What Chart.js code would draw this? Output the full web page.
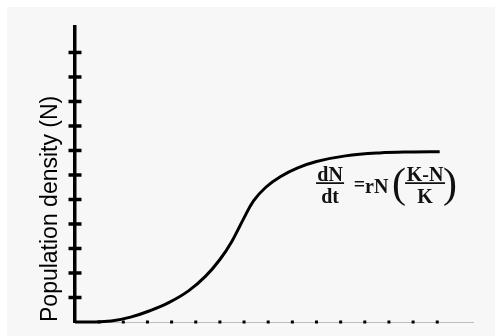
<!DOCTYPE html>
<html>
<head>
<meta charset="utf-8">
<script src="https://cdn.jsdelivr.net/npm/chart.js@4.4.0/dist/chart.umd.min.js"></script>
<style>
  html, body { margin: 0; padding: 0; background: #fff; }
  .wrap { position: absolute; left: 7px; top: 7px; width: 488px; height: 329px; }
</style>
</head>
<body>
<div class="wrap"><canvas id="logistic" width="488" height="329"></canvas></div>
<script>
// logistic growth curve (x in time steps, y in tick units)
const timeVals = [0, 0.6, 1.5, 2.3, 3.1, 3.9, 4.7, 5.4, 6.0, 6.5, 7.0, 7.4, 7.9, 8.5, 9.2, 10.0, 11.2, 12.6, 14.0, 15.1];
const densityVals = [0, 0, 0.04, 0.2, 0.46, 0.8, 1.27, 1.86, 2.55, 3.3, 4.25, 4.95, 5.5, 5.93, 6.28, 6.55, 6.78, 6.9, 6.94, 6.95];
const xMax = 16.48, yMax = 12.04;
const xLastTick = 15, yLastTick = 11;
const yTitle = 'Population density (N)';

const points = timeVals.map((t, i) => ({ x: t, y: densityVals[i] }));

const bgPlugin = {
  id: 'bg',
  beforeDraw(chart) {
    const c = chart.ctx;
    c.save();
    c.fillStyle = '#f7f7f7';
    c.fillRect(0, 0, chart.width, chart.height);
    c.restore();
  }
};

// crossing ticks on the y axis, small dots on the x axis
const marksPlugin = {
  id: 'marks',
  afterDatasetsDraw(chart) {
    const c = chart.ctx, xs = chart.scales.x, ys = chart.scales.y;
    const x0 = xs.getPixelForValue(0), y0 = ys.getPixelForValue(0);
    c.save();
    c.strokeStyle = '#000';
    c.lineWidth = 3.5;
    ys.ticks.forEach(t => {
      if (t.value <= 0 || t.value > yLastTick) return;
      const py = ys.getPixelForValue(t.value);
      c.beginPath();
      c.moveTo(x0 - 6.5, py);
      c.lineTo(x0 + 6.5, py);
      c.stroke();
    });
    c.fillStyle = '#000';
    xs.ticks.forEach(t => {
      if (t.value <= 0 || t.value > xLastTick) return;
      const px = xs.getPixelForValue(t.value);
      c.fillRect(px - 1.5, y0 - 1.5, 3, 3);
    });
    c.restore();
  }
};

// dN/dt = rN((K-N)/K)
const eqPlugin = {
  id: 'equation',
  afterDraw(chart) {
    const c = chart.ctx;
    const ax = chart.scales.x.getPixelForValue(9.94);
    const ay = chart.scales.y.getPixelForValue(5.67);
    c.save();
    c.fillStyle = '#111';
    c.strokeStyle = '#111';
    c.font = 'bold 20px "Liberation Serif"';
    c.textAlign = 'center';
    c.textBaseline = 'alphabetic';
    c.fillText('dN', ax + 15, ay - 2);
    c.fillText('dt', ax + 15, ay + 20);
    c.fillText('K-N', ax + 110, ay - 2);
    c.fillText('K', ax + 110, ay + 20);
    c.lineWidth = 1.6;
    c.beginPath();
    c.moveTo(ax + 1, ay); c.lineTo(ax + 29, ay);
    c.moveTo(ax + 90, ay); c.lineTo(ax + 130, ay);
    c.stroke();
    c.textBaseline = 'middle';
    c.fillText('=', ax + 44.5, ay + 3);
    c.textAlign = 'left';
    c.fillText('rN', ax + 50, ay + 5);
    c.font = '42px "Liberation Serif"';
    c.textAlign = 'center';
    c.fillText('(', ax + 84, ay + 3);
    c.fillText(')', ax + 135, ay + 3);
    c.restore();
  }
};

new Chart(document.getElementById('logistic'), {
  type: 'scatter',
  data: {
    datasets: [{
      data: points,
      showLine: true,
      borderColor: '#000',
      borderWidth: 3,
      pointRadius: 0,
      tension: 0.4,
      clip: false
    }]
  },
  options: {
    responsive: false,
    animation: false,
    layout: { padding: { top: 20, right: 22, left: 0, bottom: 0 } },
    plugins: { legend: { display: false }, tooltip: { enabled: false } },
    scales: {
      x: {
        type: 'linear',
        min: 0,
        max: xMax,
        ticks: { stepSize: 1, display: false },
        grid: { drawOnChartArea: false, drawTicks: false, color: 'transparent' },
        border: { color: '#bdbdbd', width: 1 },
        afterFit: s => { s.height = 14; }
      },
      y: {
        min: 0,
        max: yMax,
        ticks: { stepSize: 1, display: false },
        grid: { drawOnChartArea: false, drawTicks: false, color: 'transparent' },
        border: { color: '#000', width: 3.5 },
        title: {
          display: true,
          text: yTitle,
          align: 'start',
          color: '#000',
          font: { family: '"Liberation Sans"', size: 23 },
          padding: { top: 30, bottom: 0 }
        },
        afterFit: s => { s.width = 68; }
      }
    }
  },
  plugins: [bgPlugin, marksPlugin, eqPlugin]
});
</script>
</body>
</html>
